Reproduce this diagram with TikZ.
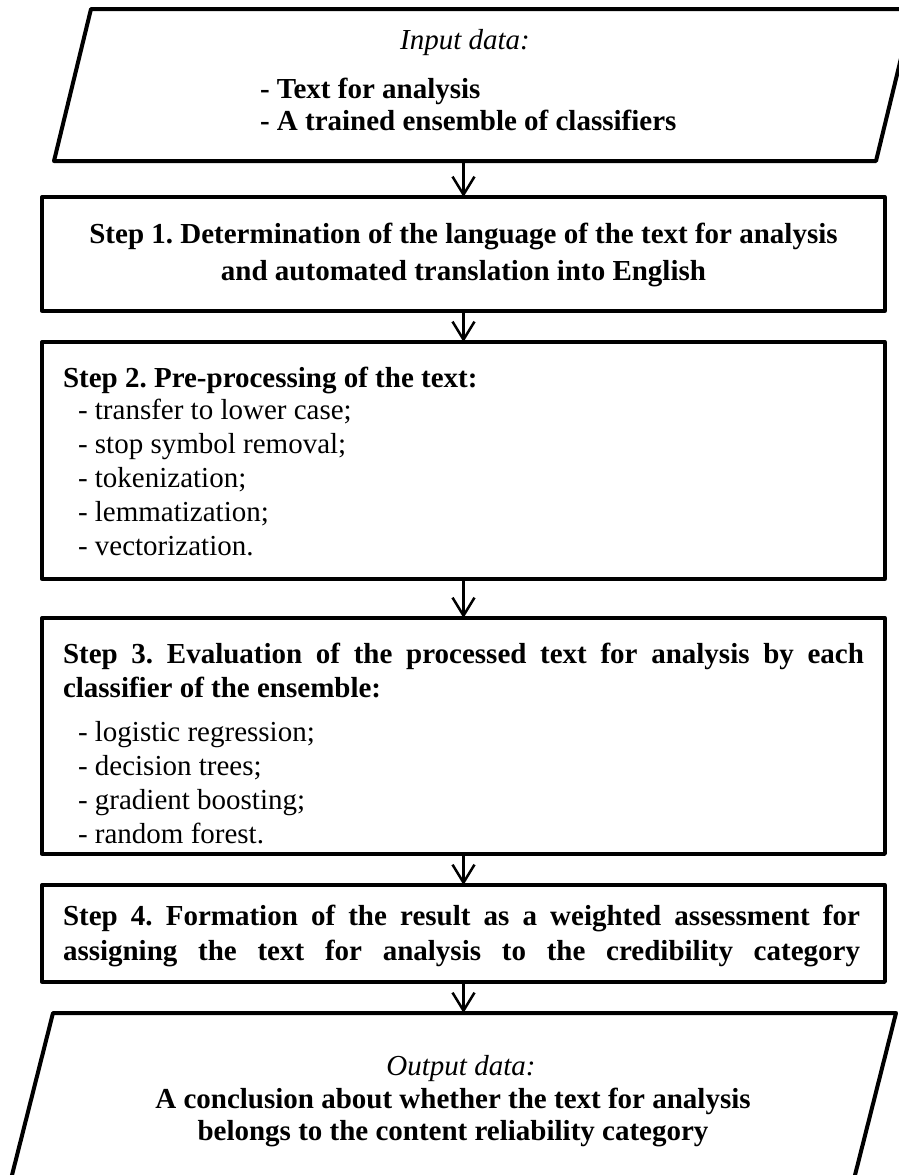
\documentclass[tikz,border=0pt]{standalone}
\usepackage{fontspec}
\setmainfont{Liberation Serif}
\usetikzlibrary{arrows.meta}
\frenchspacing
\begin{document}
\begin{tikzpicture}[x=1pt,y=-1pt,
  stepbox/.style={draw, line width=3.3pt, inner sep=0pt, outer sep=0pt, line join=round, minimum width=843pt},
  frame/.style={inner sep=0pt, outer sep=0pt, minimum width=843pt},
  io/.style={line width=4pt, line join=round},
  flow/.style={line width=2.5pt, -{Straight Barb[length=18pt,width=22pt,line width=2.5pt]}},
  txt/.style={inner sep=0pt, outer sep=0pt, font=\fontsize{29}{34}\selectfont},
  bf/.style={txt, font=\fontsize{29}{34}\selectfont\bfseries},
  it/.style={txt, font=\fontsize{29}{34}\selectfont\itshape},
]
\useasboundingbox (0,0) rectangle (899,1175);
\clip (0,0) rectangle (899,1175);

% input data
\node[frame, minimum height=152pt] (in) at (463.5,85) {};
\draw[io] (54,161) -- (91,9) -- (913,9) -- (876,161) -- cycle;
\node[it, anchor=base] (inhead) at (465,49) {Input data:};
\node[bf, anchor=base west] (in1) at (260,98) {- Text for analysis};
\node[bf, anchor=base west] (in2) at (260,130) {- A trained ensemble of classifiers};

% step 1
\node[stepbox, minimum height=114pt] (s1) at (463.5,254) {};
\node[bf, anchor=base] (s1a) at (463.5,243) {Step 1. Determination of the language of the text for analysis};
\node[bf, anchor=base] (s1b) at (463.5,280) {and automated translation into English};

% step 2
\node[stepbox, minimum height=237pt] (s2) at (463.5,460.5) {};
\node[bf, anchor=base west] (s2t) at (63,387) {Step 2. Pre-processing of the text:};
\node[txt, anchor=base west] (s2i1) at (78,419) {- transfer to lower case;};
\node[txt, anchor=base west] (s2i2) at (78,453) {- stop symbol removal;};
\node[txt, anchor=base west] (s2i3) at (78,487) {- tokenization;};
\node[txt, anchor=base west] (s2i4) at (78,521) {- lemmatization;};
\node[txt, anchor=base west] (s2i5) at (78,555) {- vectorization.};

% step 3
\node[stepbox, minimum height=236pt] (s3) at (463.5,736) {};
\node[bf, anchor=base west] (s3a) at (63,663) {\makebox[801pt][s]{Step 3. Evaluation of the processed text for analysis by each}};
\node[bf, anchor=base west] (s3b) at (63,697) {classifier of the ensemble:};
\node[txt, anchor=base west] (s3i1) at (78,741) {- logistic regression;};
\node[txt, anchor=base west] (s3i2) at (78,775) {- decision trees;};
\node[txt, anchor=base west] (s3i3) at (78,809) {- gradient boosting;};
\node[txt, anchor=base west] (s3i4) at (78,843) {- random forest.};

% step 4
\node[stepbox, minimum height=97pt] (s4) at (463.5,933.5) {};
\node[bf, anchor=base west] (s4a) at (63,925) {\makebox[797pt][s]{Step 4. Formation of the result as a weighted assessment for}};
\node[bf, anchor=base west] (s4b) at (63,960) {\makebox[797pt][s]{assigning the text for analysis to the credibility category}};

% output data
\node[frame, minimum height=162pt] (out) at (463.5,1094) {};
\draw[io] (10,1183) -- (53,1013) -- (896,1013) -- (853,1183);
\node[it, anchor=base] (outhead) at (461,1075) {Output data:};
\node[bf, anchor=base] (out1) at (453,1108) {A conclusion about whether the text for analysis};
\node[bf, anchor=base] (out2) at (453,1140) {belongs to the content reliability category};

% flow
\draw[flow] (in.south) -- (s1.north);
\draw[flow] (s1.south) -- (s2.north);
\draw[flow] (s2.south) -- (s3.north);
\draw[flow] (s3.south) -- (s4.north);
\draw[flow] (s4.south) -- (out.north);
\end{tikzpicture}
\end{document}
